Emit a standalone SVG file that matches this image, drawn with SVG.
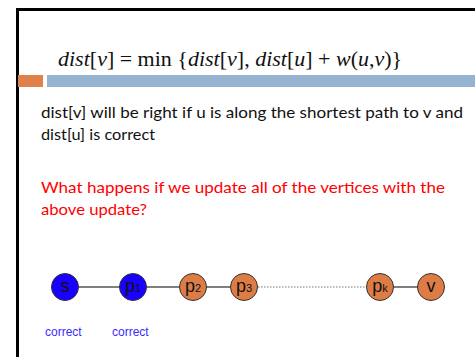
<svg xmlns="http://www.w3.org/2000/svg" width="475" height="357" viewBox="0 0 475 357">
<style>
.frame{fill:none;stroke:#000;stroke-width:3}
.body{font-family:"Lato","Liberation Sans",sans-serif;font-size:16px;fill:#111}
.red{fill:#ff0000}
.math{font-family:"Liberation Serif","Times New Roman",serif;font-size:22px;fill:#111}
.it{font-style:italic}
.edge{stroke:#555;stroke-width:1.5;fill:none}
.dot{stroke:#777;stroke-width:1.2;stroke-dasharray:1.5 1.5;fill:none}
.nb{fill:#1a00ff;stroke:#333;stroke-width:1}
.no{fill:#dd7c45;stroke:#333;stroke-width:1}
.lbl{font-family:"Liberation Sans",Arial,sans-serif;font-size:18px;fill:#111;text-anchor:middle}
.sub{font-size:11px}
.cor{font-family:"Liberation Sans",Arial,sans-serif;font-size:12px;fill:#3a2bff}
</style>
<rect width="475" height="357" fill="#fff"/>
<path class="frame" d="M17.5 357 V9.5 H475"/>
<rect x="18" y="75" width="25" height="12" fill="#df8149"/>
<rect x="47" y="75" width="428" height="12" fill="#95b4d1"/>
<text class="math" x="58" y="66"><tspan class="it">dist</tspan>[<tspan class="it">v</tspan>] = min {<tspan class="it">dist</tspan>[<tspan class="it">v</tspan>], <tspan class="it">dist</tspan>[<tspan class="it">u</tspan>] + <tspan class="it">w</tspan>(<tspan class="it">u</tspan>,<tspan class="it">v</tspan>)}</text>
<text class="body" x="41" y="118" textLength="422" lengthAdjust="spacingAndGlyphs">dist[v] will be right if u is along the shortest path to v and</text>
<text class="body" x="41" y="140" textLength="114" lengthAdjust="spacingAndGlyphs">dist[u] is correct</text>
<text class="body red" x="41" y="193" textLength="404" lengthAdjust="spacingAndGlyphs">What happens if we update all of the vertices with the</text>
<text class="body red" x="41" y="215" textLength="106" lengthAdjust="spacingAndGlyphs">above update?</text>
<g id="connectors">
<line class="edge" x1="79" y1="287" x2="120" y2="287"/>
<line class="edge" x1="147" y1="287" x2="179" y2="287"/>
<line class="edge" x1="206" y1="287" x2="231" y2="287"/>
<line class="dot" x1="258" y1="287" x2="367" y2="287"/>
<line class="edge" x1="393" y1="287" x2="418" y2="287"/>
</g>
<g id="node-s"><circle class="nb" cx="65" cy="287" r="13.5"/><text class="lbl" x="65" y="292">s</text></g>
<g id="node-p1"><circle class="nb" cx="133" cy="287" r="13.5"/><text class="lbl" x="133" y="292">p<tspan class="sub">1</tspan></text></g>
<g id="node-p2"><circle class="no" cx="193" cy="287" r="13.5"/><text class="lbl" x="193" y="292">p<tspan class="sub">2</tspan></text></g>
<g id="node-p3"><circle class="no" cx="244" cy="287" r="13.5"/><text class="lbl" x="244" y="292">p<tspan class="sub">3</tspan></text></g>
<g id="node-pk"><circle class="no" cx="380" cy="287" r="13.5"/><text class="lbl" x="380" y="292">p<tspan class="sub">k</tspan></text></g>
<g id="node-v"><circle class="no" cx="431" cy="287" r="13.5"/><text class="lbl" x="431" y="292">v</text></g>
<text class="cor" x="45" y="336">correct</text>
<text class="cor" x="112" y="336">correct</text>
</svg>
